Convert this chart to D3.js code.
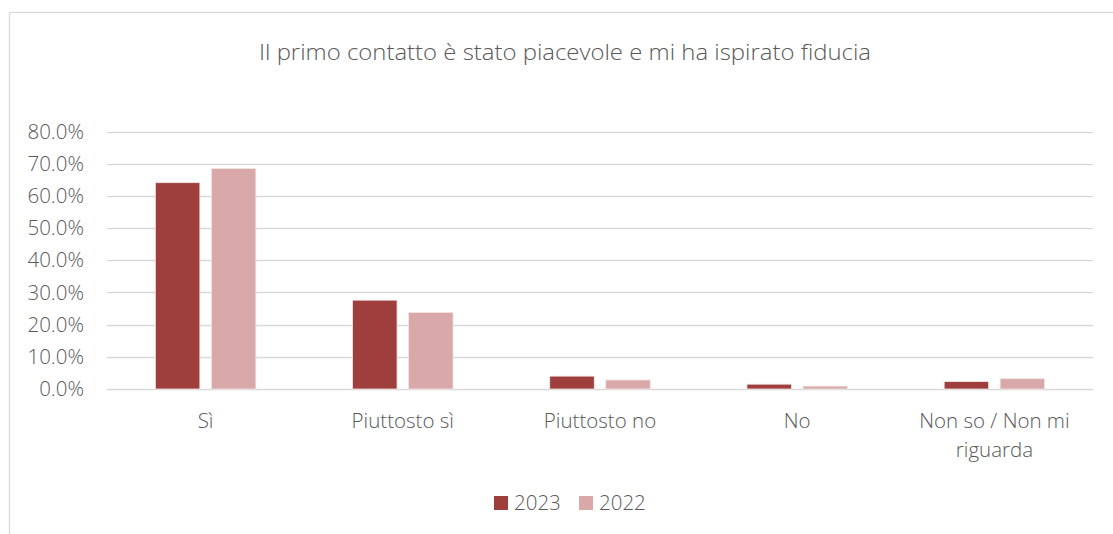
<!DOCTYPE html>
<html><head><meta charset="utf-8">
<script src="https://cdn.jsdelivr.net/npm/d3@7"></script>
<style>
html,body{margin:0;padding:0;background:#fff;}
svg{display:block;}
text{font-family:"Open Sans","Noto Sans",sans-serif;font-weight:300;fill:#595959;}
</style></head>
<body><svg id="c" width="1113" height="534"></svg>
<script>
const title = "Il primo contatto è stato piacevole e mi ha ispirato fiducia";
const categories = [["Sì"], ["Piuttosto sì"], ["Piuttosto no"], ["No"], ["Non so / Non mi", "riguarda"]];
const seriesNames = ["2023", "2022"];
const values2023 = [0.641, 0.276, 0.040, 0.015, 0.023];
const values2022 = [0.685, 0.238, 0.028, 0.009, 0.032];
const yTicks = [0, 0.1, 0.2, 0.3, 0.4, 0.5, 0.6, 0.7, 0.8];
const colors = ["#9E3F3E", "#D9A9A9"];

const svg = d3.select("#c");
svg.append("rect").attr("x", 9.5).attr("y", 12.5).attr("width", 1200).attr("height", 600)
  .attr("fill", "#fff").attr("stroke", "#D9D9D9").attr("stroke-width", 1.3);

svg.append("text").attr("x", 565).attr("y", 60).attr("text-anchor", "middle")
  .attr("textLength", 612).attr("lengthAdjust", "spacingAndGlyphs")
  .style("font-size", "22.5px").text(title);

const x = d3.scaleBand().domain(d3.range(categories.length)).range([107, 1093]);
const y = d3.scaleLinear().domain([0, 0.8]).range([389, 131.5]);

const grid = svg.append("g");
grid.selectAll("line").data(yTicks).join("line")
  .attr("x1", 107).attr("x2", 1093)
  .attr("y1", d => Math.round(y(d)) + 0.5).attr("y2", d => Math.round(y(d)) + 0.5)
  .attr("stroke", "#D9D9D9").attr("stroke-width", 1.3);

const yAxis = d3.axisLeft(y).tickValues(yTicks).tickFormat(d3.format(".1%")).tickSize(0).tickPadding(0);
const ya = svg.append("g").attr("transform", "translate(84,0)").call(yAxis);
ya.select(".domain").remove();
ya.selectAll("text").style("font-size", "20.5px").style("font-family", '"Open Sans","Noto Sans",sans-serif').attr("fill", "#595959");

const barW = 44.5, gap = 11.5;
const series = [values2023, values2022];
series.forEach((vals, si) => {
  svg.append("g").selectAll("rect").data(vals).join("rect")
    .attr("x", (d, i) => x(i) + x.bandwidth() / 2 - gap / 2 - barW + si * (barW + gap))
    .attr("y", d => y(d))
    .attr("width", barW)
    .attr("height", d => y(0) - y(d))
    .attr("fill", colors[si])
    .attr("stroke", "#F2E6E6").attr("stroke-width", 0.8);
});

const xl = svg.append("g");
categories.forEach((lines, i) => {
  const t = xl.append("text").attr("text-anchor", "middle").style("font-size", "20.5px");
  lines.forEach((ln, k) => {
    t.append("tspan").attr("x", x(i) + x.bandwidth() / 2).attr("y", 428 + k * 29).text(ln);
  });
});

const legendX = [494, 579];
seriesNames.forEach((n, i) => {
  svg.append("rect").attr("x", legendX[i]).attr("y", 496).attr("width", 14).attr("height", 14).attr("fill", colors[i]);
  svg.append("text").attr("x", legendX[i] + 20).attr("y", 510).style("font-size", "20.5px").text(n);
});
</script></body></html>
